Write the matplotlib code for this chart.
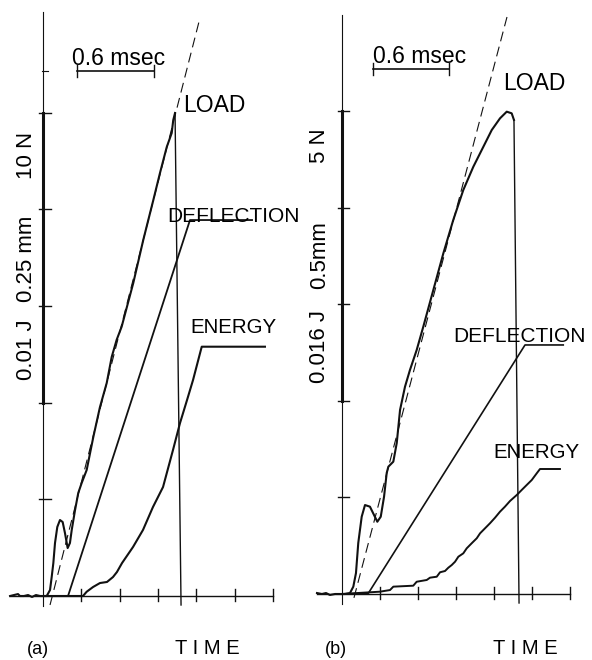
import matplotlib.pyplot as plt
import numpy as np

# time in msec (one tick = 0.3 msec), signal height in screen divisions
time_ticks = [0.3, 0.6, 0.9, 1.2, 1.5, 1.8]
div_ticks = [1, 2, 3, 4, 5]

# ---- (a) ----
load_a_t = [-0.258, -0.227, -0.196, -0.180, -0.149, -0.117, -0.086, -0.055, -0.023, 0.008,
            0.029, 0.055, 0.068, 0.081, 0.094, 0.112, 0.133, 0.154, 0.172, 0.193, 0.211,
            0.225, 0.251, 0.276, 0.303, 0.342, 0.394, 0.446, 0.499, 0.538, 0.577, 0.616,
            0.707, 0.785, 0.864, 0.916, 0.969, 1.008, 1.020, 1.034, 1.081]
load_a_y = [0.0, 0.01, 0.02, 0.0, 0.0, 0.01, -0.01, 0.01, 0.0, 0.0,
            0.0, 0.062, 0.196, 0.341, 0.548, 0.714, 0.786, 0.765, 0.651, 0.496, 0.548,
            0.683, 0.889, 1.065, 1.169, 1.303, 1.644, 1.954, 2.203, 2.472, 2.650, 2.785,
            3.237, 3.681, 4.095, 4.374, 4.643, 4.788, 4.922, 4.995, -0.093]
slope_a_t = [0.055, 1.229]
slope_a_y = [-0.093, 5.977]
defl_a_t = [0.008, 0.196, 1.151, 1.637]
defl_a_y = [0.0, 0.0, 3.888, 3.888]
energy_a_t = [0.008, 0.313, 0.342, 0.392, 0.446, 0.501, 0.548, 0.579, 0.619, 0.705, 0.783,
              0.861, 0.940, 1.018, 1.073, 1.128, 1.175, 1.243, 1.738]
energy_a_y = [0.0, 0.0, 0.044, 0.093, 0.134, 0.145, 0.196, 0.248, 0.341, 0.507, 0.683,
              0.920, 1.127, 1.510, 1.789, 2.027, 2.234, 2.578, 2.578]
scale_labels_a = ["10 N", "0.25 mm", "0.01 J"]

# ---- (b) ----
load_b_t = [-0.193, -0.154, -0.122, -0.091, -0.051, -0.012, 0.028, 0.067, 0.093, 0.114,
            0.132, 0.159, 0.185, 0.224, 0.256, 0.282, 0.309, 0.335, 0.356, 0.369, 0.408,
            0.435, 0.461, 0.500, 0.539, 0.592, 0.644, 0.723, 0.802, 0.880, 0.959, 1.038,
            1.117, 1.183, 1.248, 1.301, 1.340, 1.358, 1.398]
load_b_y = [0.010, 0.0, 0.010, -0.010, 0.0, 0.0, 0.0, 0.010, 0.076, 0.217,
            0.528, 0.800, 0.921, 0.904, 0.818, 0.748, 0.800, 1.007, 1.253, 1.318, 1.370,
            1.563, 1.905, 2.146, 2.319, 2.526, 2.767, 3.147, 3.527, 3.872, 4.182, 4.423,
            4.630, 4.803, 4.924, 4.993, 4.976, 4.907, -0.093]
slope_b_t = [0.098, 1.303]
slope_b_y = [-0.04, 5.973]
defl_b_t = [0.0, 0.211, 1.445, 1.746]
defl_b_y = [0.0, 0.007, 2.578, 2.578]
energy_b_t = [0.0, 0.303, 0.382, 0.408, 0.565, 0.592, 0.671, 0.697, 0.750, 0.776, 0.815,
              0.841, 0.868, 0.894, 0.920, 0.959, 0.986, 1.025, 1.065, 1.091, 1.130,
              1.169, 1.209, 1.248, 1.287, 1.327, 1.380, 1.419, 1.458, 1.498, 1.537,
              1.563, 1.720]
energy_b_y = [0.0, 0.024, 0.041, 0.076, 0.086, 0.127, 0.145, 0.169, 0.179, 0.225, 0.238,
              0.272, 0.300, 0.334, 0.386, 0.421, 0.473, 0.525, 0.577, 0.628, 0.680,
              0.732, 0.790, 0.852, 0.904, 0.963, 1.025, 1.077, 1.128, 1.180, 1.249,
              1.294, 1.294]
scale_labels_b = ["5 N", "0.5mm", "0.016 J"]

FONT = 'Liberation Sans'
INK = '#111111'

fig = plt.figure(figsize=(5.92, 6.6), dpi=100)


def frame(ax, x_left, y_top, small_tick=None):
    # vertical scale with the heavy middle section, horizontal time base
    ax.plot([0, 0], [-0.1, y_top], color=INK, lw=0.8)
    ax.plot([0, 0], [2, 5], color=INK, lw=2.2)
    for y in div_ticks:
        ax.plot([-0.03, 0.06], [y, y], color=INK, lw=1.0)
    if small_tick is not None:
        ax.plot([-0.01, 0.04], [small_tick, small_tick], color=INK, lw=0.8)
    ax.plot([x_left, 1.8], [0, 0], color=INK, lw=1.0)
    for t in time_ticks:
        ax.plot([t, t], [-0.05, 0.07], color=INK, lw=1.0)


def scale_bar(ax, t0, y):
    ax.plot([t0, t0 + 0.6], [y, y], color=INK, lw=1.2)
    for t in (t0, t0 + 0.6):
        ax.plot([t, t], [y - 0.06, y + 0.06], color=INK, lw=1.0)


def load_trace(ax, t, y):
    # rising part heavy, fracture drop drawn as a thin trace
    ax.plot(t[:-1], y[:-1], color=INK, lw=1.5)
    ax.plot(t[-2:], y[-2:], color=INK, lw=1.0)


# panel (a)
ax = fig.add_axes([0, 0, 1, 1])
ax.set_xlim(-43 / 127.7, (592 - 43) / 127.7)
ax.set_ylim(-(660 - 596) / 96.7, 596 / 96.7)
ax.axis('off')
frame(ax, -0.258, 6.04, small_tick=5.43)
ax.plot(slope_a_t, slope_a_y, color=INK, lw=0.8, dashes=(9, 5))
load_trace(ax, load_a_t, load_a_y)
ax.plot(defl_a_t, defl_a_y, color=INK, lw=1.3)
ax.plot(energy_a_t, energy_a_y, color=INK, lw=1.5)
scale_bar(ax, 0.27, 5.43)
ax.text(0.227, 5.49, "0.6 msec", fontsize=16.5, family=FONT, va='baseline')
ax.text(1.096, 5.005, "LOAD", fontsize=16.5, family=FONT, va='baseline')
ax.text(0.971, 3.868, "DEFLECTION", fontsize=15, family=FONT, va='baseline')
ax.text(1.151, 2.72, "ENERGY", fontsize=14.8, family=FONT, va='baseline')
for label, y in zip(scale_labels_a, [4.56, 3.485, 2.544]):
    ax.text(-0.13, y, label, fontsize=16, family=FONT, rotation=90,
            ha='center', va='center')
ax.text(-0.125, -0.6, "(a)", fontsize=13, family=FONT, va='baseline')
ax.text(1.034, -0.6, "T I M E", fontsize=14.5, family=FONT, va='baseline')

# panel (b)
bx = fig.add_axes([0, 0, 1, 1])
bx.set_xlim(-341.5 / 127.0, (592 - 341.5) / 127.0)
bx.set_ylim(-(660 - 594) / 96.6, 594 / 96.6)
bx.axis('off')
bx.patch.set_alpha(0)
frame(bx, -0.194, 5.99)
bx.plot(slope_b_t, slope_b_y, color=INK, lw=0.8, dashes=(9, 5))
load_trace(bx, load_b_t, load_b_y)
bx.plot(defl_b_t, defl_b_y, color=INK, lw=1.2)
bx.plot(energy_b_t, energy_b_y, color=INK, lw=1.4)
scale_bar(bx, 0.25, 5.435)
bx.text(0.248, 5.497, "0.6 msec", fontsize=16.5, family=FONT, va='baseline')
bx.text(1.272, 5.217, "LOAD", fontsize=16.5, family=FONT, va='baseline')
bx.text(0.878, 2.609, "DEFLECTION", fontsize=15, family=FONT, va='baseline')
bx.text(1.193, 1.408, "ENERGY", fontsize=14.8, family=FONT, va='baseline')
for label, y in zip(scale_labels_b, [4.638, 3.509, 2.557]):
    bx.text(-0.17, y, label, fontsize=16, family=FONT, rotation=90,
            ha='center', va='center')
bx.text(-0.13, -0.62, "(b)", fontsize=13, family=FONT, va='baseline')
bx.text(1.193, -0.62, "T I M E", fontsize=14.5, family=FONT, va='baseline')

fig.savefig('out.png', dpi=100)
